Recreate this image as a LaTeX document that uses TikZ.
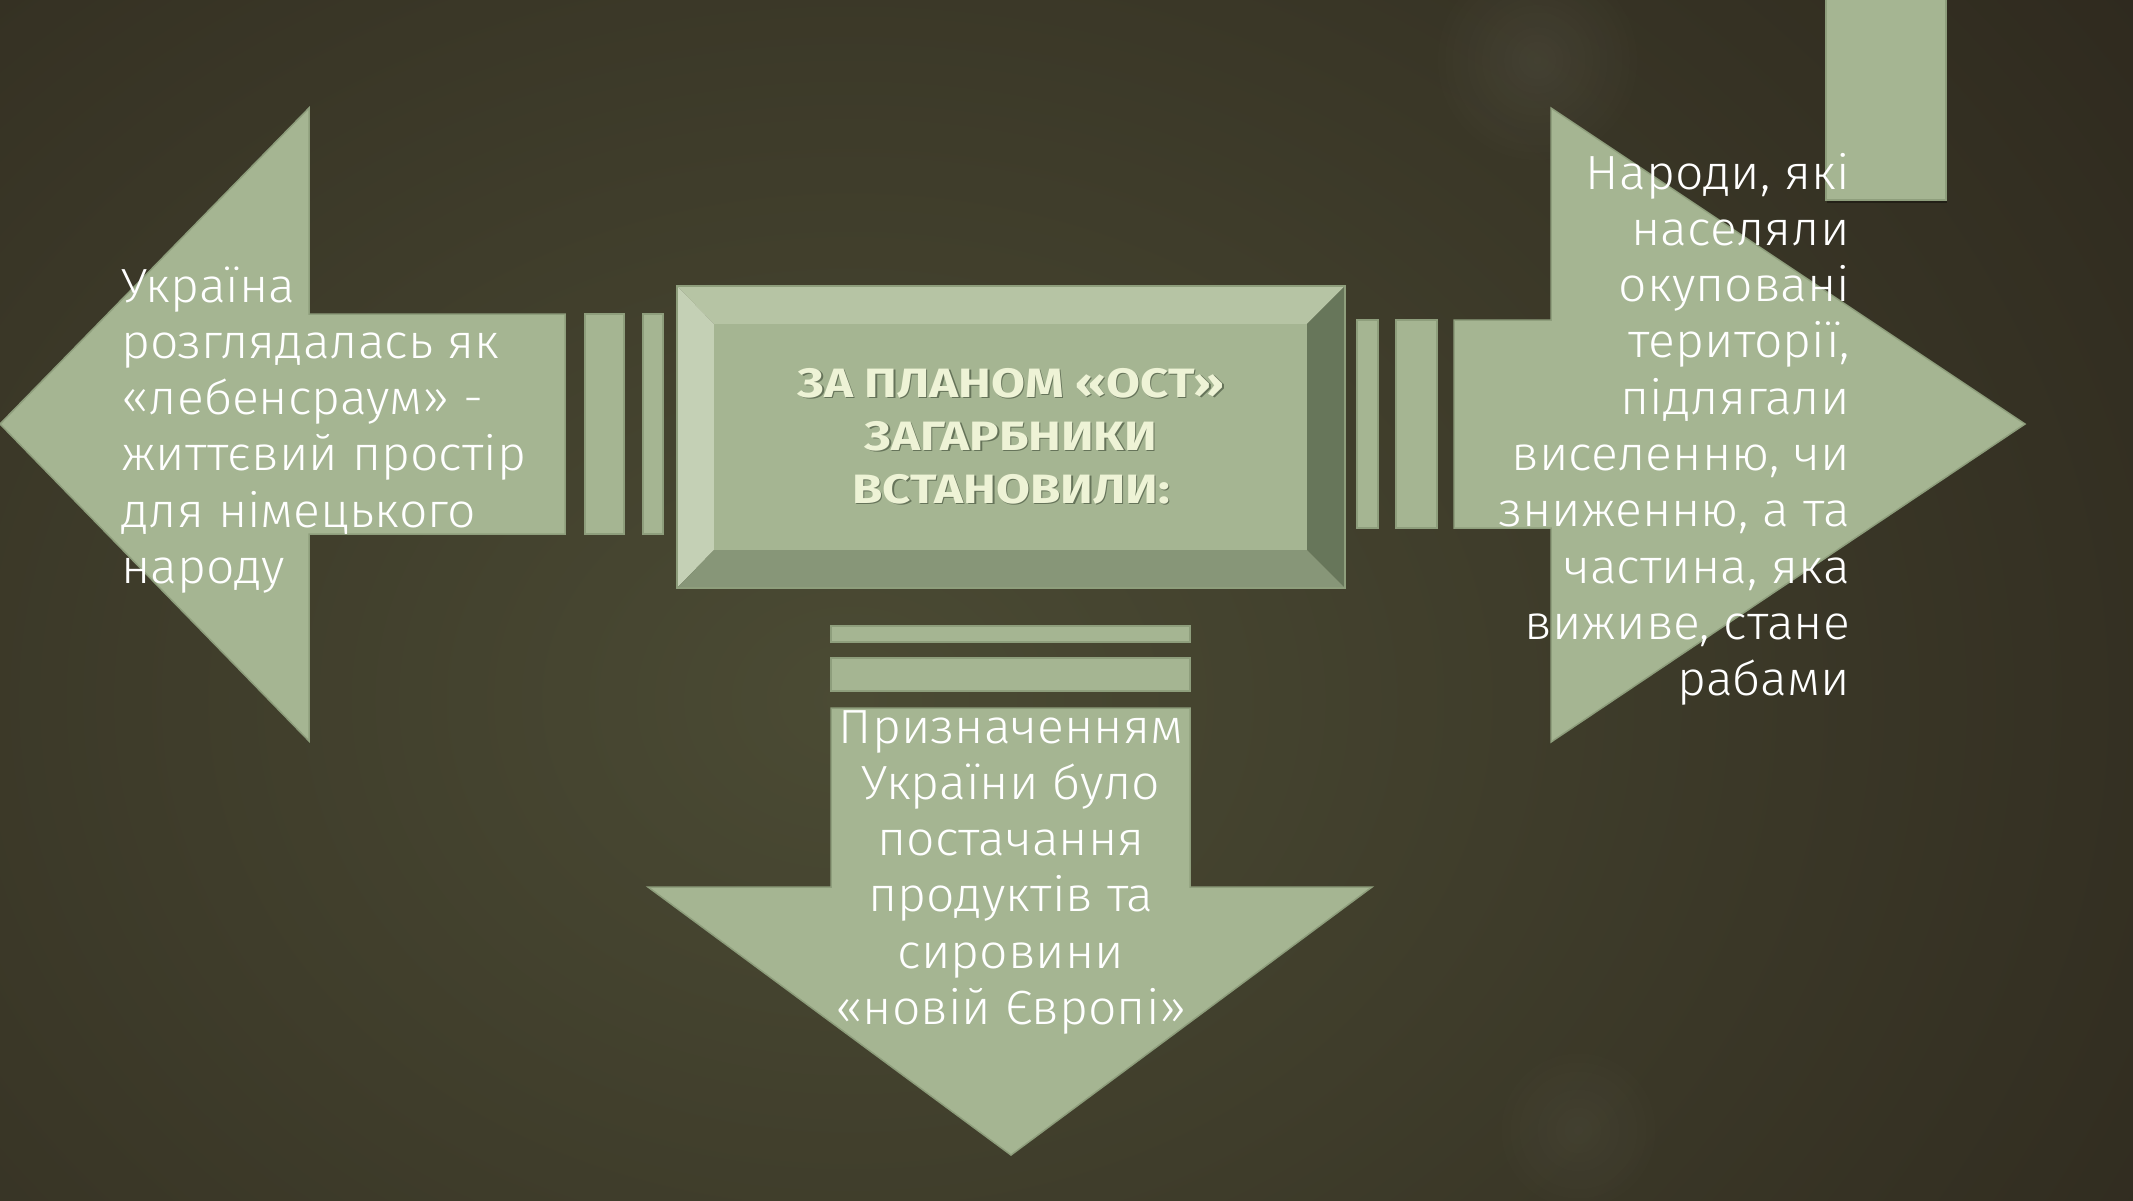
\documentclass[tikz,border=0pt]{standalone}
\usepackage{fontspec}
\setmainfont{Fira Sans}[UprightFont={* Light},BoldFont={* Bold}]
\usetikzlibrary{fadings}
\definecolor{sage}{HTML}{A5B592}
\definecolor{sageline}{HTML}{8E9E7C}
\definecolor{bevtop}{HTML}{B6C4A4}
\definecolor{bevleft}{HTML}{C4D0B5}
\definecolor{bevright}{HTML}{67765A}
\definecolor{bevbot}{HTML}{879678}
\definecolor{bgdark}{HTML}{29231A}
\definecolor{bglight}{HTML}{4B4B34}
\definecolor{titlecol}{HTML}{EEF3D6}
\definecolor{titleshade}{HTML}{66745A}
\tikzfading[name=glow, inner color=transparent!0, outer color=transparent!100]
\begin{document}
\begin{tikzpicture}[x=1pt,y=-1pt,
  arrowshape/.style={fill=sage, draw=sageline, line width=1.5pt, line join=miter},
  bar/.style={fill=sage, draw=sageline, line width=1.5pt},
  body/.style={text=white, inner sep=0pt, font=\addfontfeature{FakeStretch=1.04}\fontsize{48}{56.3}\selectfont},
  titletext/.style={inner sep=0pt, font=\bfseries\addfontfeature{FakeStretch=1.2}\fontsize{41}{53}\selectfont}]
\useasboundingbox (0,0) rectangle (2133,1200);
\fill[bgdark] (0,0) rectangle (2133,1200);
\shade[inner color=bglight, outer color=bgdark] (850,700) ellipse [x radius=1900pt, y radius=1500pt];
\fill[white, fill opacity=0.06, path fading=glow] (1537,60) circle (110pt);
\fill[white, fill opacity=0.04, path fading=glow] (1578,1130) circle (90pt);
% top right bar
\path[bar] (1826,-5) rectangle (1946,200);
\draw[black, opacity=0.35, line width=2pt] (1827,202) -- (1947,202);
% left arrow
\path[arrowshape] (0,424) -- (309,108) -- (309,314) -- (565,314) -- (565,534) -- (309,534) -- (309,741) -- cycle;
\path[bar] (585,314) rectangle (624,534);
\path[bar] (643,314) rectangle (663,534);
% right arrow
\path[bar] (1357,320) rectangle (1378,528);
\path[bar] (1396,320) rectangle (1437,528);
\path[arrowshape] (1454,320) -- (1551,320) -- (1551,108) -- (2025,424) -- (1551,742) -- (1551,528) -- (1454,528) -- cycle;
% down arrow
\path[bar] (831,626) rectangle (1190,642);
\path[bar] (831,658) rectangle (1190,691);
\path[arrowshape] (831,708) -- (1190,708) -- (1190,887) -- (1372,887) -- (1011,1155) -- (648,887) -- (831,887) -- cycle;
% centre bevel box
\fill[bevtop] (677,286) -- (1345,286) -- (1307,324) -- (714,324) -- cycle;
\fill[bevleft] (677,286) -- (714,324) -- (714,550) -- (677,588) -- cycle;
\fill[bevright] (1345,286) -- (1345,588) -- (1307,550) -- (1307,324) -- cycle;
\fill[bevbot] (677,588) -- (714,550) -- (1307,550) -- (1345,588) -- cycle;
\fill[sage] (714,324) rectangle (1307,550);
\draw[sageline, line width=1.5pt] (677,286) rectangle (1345,588);
% texts
\node[titletext, text=titleshade, anchor=base] (titleshadow) at (1012.5,398.5)
  {\begin{tabular}[t]{@{}c@{}}ЗА ПЛАНОМ «ОСТ»\\ЗАГАРБНИКИ\\ВСТАНОВИЛИ:\end{tabular}};
\node[titletext, text=titlecol, anchor=base] (title) at (1011,397)
  {\begin{tabular}[t]{@{}c@{}}ЗА ПЛАНОМ «ОСТ»\\ЗАГАРБНИКИ\\ВСТАНОВИЛИ:\end{tabular}};
\node[body, anchor=base west] (lefttext) at (121,302)
  {\begin{tabular}[t]{@{}l@{}}Україна\\розглядалась як\\«лебенсраум» -\\життєвий простір\\для німецького\\народу\end{tabular}};
\node[body, anchor=base east] (righttext) at (1850,189)
  {\begin{tabular}[t]{@{}r@{}}Народи, які\\населяли\\окуповані\\території,\\підлягали\\виселенню, чи\\зниженню, а та\\частина, яка\\виживе, стане\\рабами\end{tabular}};
\node[body, anchor=base] (downtext) at (1011,743)
  {\begin{tabular}[t]{@{}c@{}}Призначенням\\України було\\постачання\\продуктів та\\сировини\\«новій Європі»\end{tabular}};
\end{tikzpicture}
\end{document}
